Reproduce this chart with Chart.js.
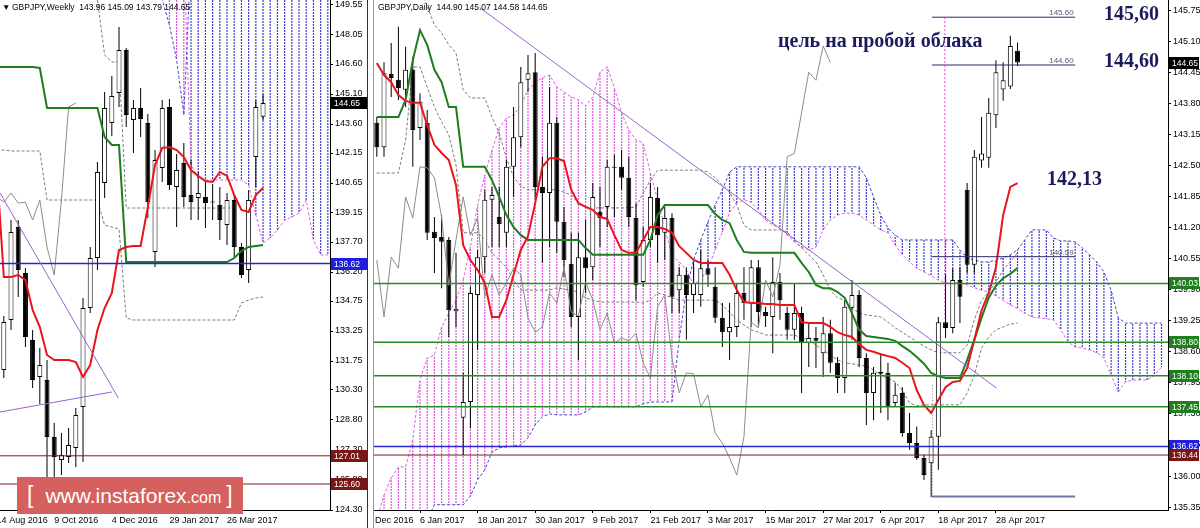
<!DOCTYPE html>
<html>
<head>
<meta charset="utf-8">
<title>GBPJPY Weekly / Daily</title>
<script src="https://cdn.jsdelivr.net/npm/chart.js@4.4.1/dist/chart.umd.min.js"></script>
<style>
  body { margin: 0; background: #fff; }
  #wrap { position: relative; width: 1200px; height: 528px; overflow: hidden; background: #fff; }
  #wk { position: absolute; left: 0; top: 0; }
  #dy { position: absolute; left: 374px; top: 0; }
  .sep { position: absolute; top: 0; width: 1px; height: 528px; }
  #logo { position: absolute; left: 17px; top: 477px; width: 226px; height: 37px; background: #d6605d;
          color: #fff; font-family: "Liberation Sans", sans-serif; line-height: 36px; white-space: nowrap; }
  #logo .br { font-size: 23px; }
  #logo .w { font-size: 21px; }
  #logo .c { font-size: 16px; }
</style>
</head>
<body>
<div id="wrap">
  <canvas id="wk" width="368" height="528"></canvas>
  <div class="sep" style="left:367px;background:#333"></div>
  <div class="sep" style="left:373px;background:#7f9db9"></div>
  <canvas id="dy" width="826" height="528"></canvas>
  <div id="logo"><span class="br" style="margin-left:10px">[</span><span class="w" style="margin-left:12px">www.instaforex</span><span class="c">.com</span><span class="br" style="margin-left:5px">]</span></div>
</div>
<script>
// ---- weekly panel, x = week number from 14 Aug 2016 ----
var wkOpen  = [null,131.3,133.8,138.45,136.15,132.8,130.95,130.8,127.95,126.8,126.95,127.4,129.45,134.4,136.9,140.65,143.65,145.15,147.3,143.8,144.4,143.65,137.2,141.4,144.45,140.45,141.65,140.05,139.9,139.95,139.7,139.55,138.55,139.8,137.45,136.3,141.95,143.96];
var wkHigh  = [null,134.0,138.8,138.8,136.4,133.3,132.4,131.8,128.65,128.15,128.4,129.4,134.9,137.45,141.7,145.2,146.0,148.45,147.4,144.8,145.4,144.1,142.3,144.8,144.85,142.1,142.65,141.8,141.2,140.8,140.6,140.45,140.15,140.1,137.65,140.3,144.8,145.09];
var wkLow   = [null,130.9,133.3,134.95,132.45,130.4,129.6,124.6,125.2,126.05,126.65,126.45,126.7,134.15,136.3,139.9,143.0,144.45,143.45,142.15,142.95,138.9,136.45,140.7,140.3,138.45,139.45,138.8,138.8,138.4,138.8,137.8,137.55,136.95,135.9,135.65,140.45,143.79];
var wkClose = [null,133.7,138.2,136.3,132.95,130.8,131.55,127.95,126.95,127.05,127.55,129.05,134.4,136.9,141.2,144.4,145.0,147.3,144.05,144.4,143.85,139.7,141.8,144.4,140.55,141.3,139.95,139.7,140.15,139.65,139.68,138.8,139.8,137.45,136.05,139.8,144.45,144.65];
var wkTenkan = [141.5,135.95,135.95,136.05,135.8,134.3,133.45,132.05,131.8,131.8,131.8,131.7,130.95,131.55,133.3,134.4,135.15,137.3,137.45,137.5,137.5,139.45,141.55,142.4,142.45,142.3,141.95,141.3,141.0,140.75,140.7,141.2,141.0,140.05,139.3,139.2,140.05,140.4];
var wkKijun = [146.45,146.45,146.45,146.45,146.45,146.45,146.4,144.4,144.4,144.4,144.4,144.4,144.4,144.4,144.4,142.95,142.55,142.55,136.7,136.7,136.7,136.7,136.7,136.7,136.7,136.7,136.7,136.7,136.7,136.7,136.7,136.7,136.7,136.9,137.25,137.45,137.5,137.55];
var wkGrayUp = [null,null,null,null,null,null,null,null,null,null,null,null,null,151.0,149.8,147.05,146.7,146.7,139.4,139.4,139.4,139.4,139.4,139.4,139.4,139.4,139.4,139.4,139.4,139.4,139.4,139.4,139.4,139.4,null,null,null,null];
var wkGrayLo = [142.3,142.3,142.25,142.25,142.25,142.25,142.25,139.8,139.8,139.8,139.8,139.8,139.8,139.8,139.8,138.55,138.45,138.35,133.9,133.8,133.8,133.8,133.8,133.8,133.8,133.8,133.8,133.8,133.8,133.8,133.8,133.8,133.8,133.8,134.65,134.8,134.9,134.95];
var wkSpanA = [null,null,null,null,null,null,null,null,null,null,null,null,null,null,null,null,null,null,null,null,null,null,150.3,149.8,148.55,146.8,144.05,152,152,152,152,152,152,152,152,152,152,152,152,152,152,152,152,152,152,152,152];
var wkSpanB = [null,null,null,null,null,null,null,null,null,null,null,null,null,null,null,null,null,null,null,null,null,null,152,152,152,152,152,141.55,140.9,140.8,140.8,140.8,140.8,140.8,140.8,140.55,139.05,137.65,137.9,138.3,138.8,138.95,139.15,139.8,137.8,137.05,137.05];
var wkTickPos = [0, 8, 16, 24, 32];
var wkTickLabels = ['14 Aug 2016', '9 Oct 2016', '4 Dec 2016', '29 Jan 2017', '26 Mar 2017'];
var wkPriceTicks = [149.55,148.05,146.60,145.10,143.60,142.15,140.65,139.15,137.70,136.20,134.75,133.25,131.75,130.30,128.80,127.30,125.80,124.30];
var wkSupport = 136.62;
var wkLowLevels = [127.01, 125.60];

// ---- daily panel, x = trading day from 29 Dec 2016 ----
var dOpen = [143.39,142.88,144.41,144.29,144.08,144.50,143.28,143.39,141.11,141.00,
  140.94,139.45,137.22,137.55,139.79,140.58,141.78,141.42,141.09,142.47,
  143.09,144.29,144.45,142.05,141.92,143.39,141.32,140.44,139.33,140.58,
  140.37,141.53,141.63,142.47,142.47,142.24,141.40,140.06,140.94,141.82,
  141.09,141.40,139.89,140.21,139.79,139.79,140.35,139.96,139.31,139.01,
  139.12,139.83,139.62,140.37,139.43,139.33,140.06,139.41,139.06,139.41,
  138.78,138.89,138.57,138.99,138.37,138.05,139.52,139.79,138.47,137.74,
  138.18,138.16,137.53,137.74,136.90,136.69,136.38,136.27,136.82,139.22,
  139.10,140.10,141.99,140.42,142.60,142.66,143.55,144.09,144.15,144.90];
var dHigh = [143.51,144.66,145.06,145.40,144.98,144.77,144.01,143.66,141.42,141.46,
  141.00,140.67,138.16,139.96,140.73,141.99,142.05,142.05,142.61,143.72,
  144.56,144.81,144.85,142.68,144.14,143.51,141.63,141.09,141.09,141.36,
  142.13,142.05,142.61,142.72,142.82,142.68,141.71,141.21,142.13,142.05,
  141.63,141.50,140.37,140.37,140.46,140.73,140.52,140.37,139.62,139.62,
  140.04,140.37,140.52,140.52,139.54,140.58,140.25,139.54,140.04,139.54,
  139.20,139.12,139.33,139.27,138.49,139.68,140.10,139.89,138.57,138.28,
  138.57,138.37,137.95,137.86,137.32,137.03,136.45,136.96,139.33,140.21,
  140.35,140.37,142.13,142.82,143.51,143.91,144.70,144.66,145.21,145.07];
var dLow = [142.68,142.68,143.93,143.87,143.72,142.47,143.03,140.94,140.25,139.93,
  138.91,139.12,136.44,137.00,138.64,140.25,140.79,140.79,140.79,141.84,
  142.88,144.04,141.78,140.46,140.79,140.67,140.17,139.12,138.43,139.83,
  140.10,140.79,141.21,141.42,141.99,141.21,139.68,139.96,140.79,140.46,
  140.52,139.41,139.41,138.85,139.41,139.54,139.96,139.20,138.70,138.43,
  138.91,139.27,139.12,139.12,139.12,138.57,139.27,138.85,138.85,137.74,
  138.28,138.26,138.07,138.16,137.74,137.74,138.85,138.28,137.07,137.17,
  137.32,137.17,137.45,136.82,136.55,136.34,135.92,135.56,136.13,138.89,
  138.99,139.20,140.25,140.25,142.45,142.45,143.28,143.85,144.10,144.58];
var dClose = [142.88,144.43,144.33,144.12,144.50,143.24,143.83,141.09,140.98,140.90,
  139.47,139.50,137.55,139.83,140.58,141.78,141.88,141.27,142.47,143.09,
  144.24,144.43,142.05,141.92,143.39,141.32,140.52,139.33,140.58,140.35,
  141.84,141.40,142.47,142.45,142.24,141.42,139.99,140.94,141.84,141.04,
  141.40,139.75,140.21,139.79,140.04,140.35,140.21,139.31,139.01,139.12,
  139.83,139.62,140.37,139.43,139.35,140.06,139.68,139.06,139.41,138.78,
  138.89,138.83,138.99,138.37,138.05,139.54,139.79,138.47,137.74,138.16,
  138.14,137.45,137.70,136.90,136.69,136.38,136.02,136.82,139.22,139.10,
  140.10,139.75,140.42,142.68,142.75,143.60,144.45,144.28,145.00,144.65];
var dTenkan = [144.64,144.39,144.24,143.97,143.85,143.81,143.81,143.34,142.93,142.76,
  142.61,142.09,140.83,140.52,140.31,140.04,139.33,139.33,139.68,140.21,
  140.73,141.02,141.71,142.47,142.65,142.65,142.59,141.99,141.71,141.63,
  141.57,141.42,141.38,141.04,140.73,140.67,140.67,140.94,141.21,141.21,
  141.17,141.09,140.81,140.67,140.52,140.46,140.46,140.46,140.46,140.21,
  139.89,139.64,139.62,139.62,139.60,139.60,139.58,139.58,139.58,139.22,
  139.20,139.20,139.20,139.12,139.01,138.95,138.91,138.76,138.64,138.60,
  138.55,138.51,138.47,138.37,138.26,137.80,137.49,137.32,137.59,137.86,
  137.97,137.99,138.26,138.85,139.47,139.83,140.37,141.46,142.05,142.13];
var dKijun = [143.51,143.51,143.51,143.51,143.87,144.70,145.33,145.02,144.50,144.24,
  143.72,143.72,142.47,142.47,142.47,142.47,142.19,141.84,141.46,141.21,
  141.04,140.94,140.94,140.94,140.94,140.94,140.94,140.94,140.94,140.77,
  140.63,140.63,140.63,140.63,140.63,140.63,140.63,140.63,140.94,141.46,
  141.67,141.67,141.67,141.67,141.67,141.67,141.67,141.48,141.36,141.29,
  140.94,140.69,140.67,140.67,140.67,140.67,140.67,140.67,140.67,140.46,
  140.27,140.00,139.93,139.93,139.85,139.73,139.41,139.06,138.93,138.91,
  138.89,138.87,138.83,138.72,138.62,138.49,138.35,138.16,138.09,138.05,
  138.05,138.05,138.43,138.85,139.31,139.73,139.98,140.14,140.23,140.35];
var dSpanA = [135.08,135.08,135.08,135.08,135.08,135.08,135.08,135.08,135.40,135.40,
  135.40,135.40,135.40,135.58,135.92,136.13,136.50,136.59,136.61,136.63,
  136.65,136.80,137.07,137.24,137.30,137.28,137.28,137.28,137.28,137.34,
  137.45,137.45,137.45,137.45,137.45,137.45,137.45,137.51,137.55,137.55,
  137.55,137.55,138.85,139.89,140.52,140.94,141.32,141.67,141.99,142.36,
  142.47,142.47,142.47,142.47,142.47,142.47,142.47,142.47,142.47,142.47,
  142.47,142.47,142.47,142.47,142.47,142.47,142.47,142.47,142.24,141.84,
  141.46,141.19,141.04,140.94,140.94,140.94,140.94,140.94,140.94,140.94,
  140.94,140.73,140.56,140.52,140.48,140.48,140.52,140.56,140.63,140.73,
  140.94,141.15,141.15,141.15,140.98,140.92,140.92,140.90,140.77,140.63,
  140.48,140.27,139.89,139.31,139.20,139.20,139.20,139.20,139.20,139.20];
var dSpanB = [135.08,135.60,135.96,136.19,136.19,136.76,138.01,138.47,138.53,139.12,
  139.41,139.68,140.10,140.79,141.67,142.30,142.82,143.28,143.49,143.55,
  143.76,144.08,144.24,144.33,144.39,144.14,144.04,143.93,143.87,143.74,
  143.93,144.45,144.56,144.12,143.60,143.24,143.03,142.97,142.34,141.78,
  141.19,140.63,140.48,140.31,140.00,140.10,140.35,140.73,141.11,141.52,
  141.71,141.78,141.73,141.57,141.36,141.25,141.19,141.04,140.90,140.79,
  140.73,140.79,141.15,141.36,141.46,141.50,141.50,141.46,141.36,141.25,
  141.15,141.09,140.83,140.63,140.48,140.35,140.27,140.19,140.10,140.04,
  140.04,140.04,140.00,139.94,139.89,139.85,139.77,139.68,139.58,139.50,
  139.41,139.33,139.31,139.29,139.27,139.06,138.81,138.70,138.68,138.64,
  138.58,138.47,138.11,137.76,137.97,138.01,138.01,138.01,138.11,138.28];
var dGrayUp = [null,null,null,null,null,null,146.2,145.83,145.44,145.27,
  145.02,144.85,144.08,143.91,143.91,143.91,143.51,143.18,142.65,142.26,
  142.07,141.99,141.99,141.99,141.99,141.99,141.94,141.88,141.71,141.63,
  141.61,141.61,141.61,141.61,141.61,141.61,141.63,141.92,142.19,142.40,
  142.40,142.40,142.40,142.40,142.40,142.40,142.36,142.24,142.09,141.94,
  141.67,141.25,141.15,141.15,141.15,141.15,141.15,141.11,140.94,140.77,
  140.63,140.48,140.21,139.89,139.73,139.68,139.52,139.41,139.37,139.35,
  139.33,139.22,139.10,139.01,138.91,138.81,138.72,138.64,138.58,138.58,
  138.58,138.58,138.74,139.27,139.68,139.85,140.06,140.31,140.48,140.67];
var dGrayLo = [142.34,142.34,142.34,142.34,143.03,144.56,144.56,144.14,143.72,143.41,
  143.14,142.51,141.09,141.09,141.09,140.94,140.67,140.52,140.37,140.10,
  139.89,139.89,139.89,139.89,139.89,139.94,139.91,139.89,139.85,139.73,
  139.68,139.64,139.64,139.64,139.64,139.64,139.64,139.62,139.68,139.83,
  139.79,139.73,139.68,139.68,139.68,139.68,139.68,139.68,139.58,139.43,
  139.27,139.16,139.06,139.01,138.95,138.95,138.95,138.95,138.95,138.89,
  138.85,138.74,138.64,138.53,138.43,138.37,138.35,138.32,138.30,138.22,
  138.11,138.05,137.97,137.80,137.53,137.47,137.49,137.49,137.49,137.49,
  137.49,137.49,137.74,138.11,138.68,138.91,139.06,139.12,139.18,139.20];
var dTickPos = [-2, 6, 14, 22, 30, 38, 46, 54, 62, 70, 78, 86];
var dTickLabels = ['27 Dec 2016','6 Jan 2017','18 Jan 2017','30 Jan 2017','9 Feb 2017','21 Feb 2017',
  '3 Mar 2017','15 Mar 2017','27 Mar 2017','6 Apr 2017','18 Apr 2017','28 Apr 2017'];
var dPriceTicks = [145.75,145.10,144.45,143.80,143.15,142.50,141.85,141.20,140.55,139.90,139.25,138.60,137.95,137.30,136.65,136.00,135.35];
var dGreenLevels = [140.03, 138.80, 138.10, 137.45];
var dSupport = 136.62;
var dRedLevel = 136.44;
var dTargets = [145.60, 144.60, 140.59];
var dLowMark = 135.57;

Chart.defaults.font.family = '"Liberation Sans", "DejaVu Sans", sans-serif';

function pts(arr, shift) {
  return arr.map(function (v, i) { return { x: i + shift, y: v }; });
}

function line(data, color, width, dash, order) {
  return { type: 'line', data: data, borderColor: color, borderWidth: width, borderDash: dash || [],
           pointRadius: 0, tension: 0, fill: false, order: order, clip: 0 };
}

function hline(v, x0, x1, color, width, dash, order) {
  return line([{ x: x0, y: v }, { x: x1, y: v }], color, width, dash, order);
}

function candles(o, h, l, c) {
  var wick = [], up = [], dn = [];
  o.forEach(function (v, i) {
    if (v == null) return;
    wick.push({ x: i, y: [l[i], h[i]] });
    if (c[i] >= v) up.push({ x: i, y: [v, c[i]] });
    else dn.push({ x: i, y: [c[i], v] });
  });
  var base = { type: 'bar', grouped: false, borderSkipped: false, inflateAmount: 0, clip: 0, minBarLength: 1 };
  return [
    Object.assign({}, base, { data: up, barThickness: 5, backgroundColor: '#fff', borderColor: '#000', borderWidth: 1, order: 3 }),
    Object.assign({}, base, { data: dn, barThickness: 5, backgroundColor: '#000', borderColor: '#000', borderWidth: 1, order: 3 }),
    Object.assign({}, base, { data: wick, barThickness: 1, backgroundColor: '#000', borderWidth: 0, order: 4 })
  ];
}

// dotted vertical hatch, like the kumo histogram
function dots(ctx, color) {
  var c = document.createElement('canvas');
  c.width = 1; c.height = 3;
  var g = c.getContext('2d');
  g.fillStyle = color;
  g.fillRect(0, 0, 1, 2);
  return ctx.createPattern(c, 'repeat');
}

function cloud(a, b, ctx) {
  var up = [], dn = [];
  a.forEach(function (v, i) {
    if (v == null || b[i] == null) return;
    var p = { x: i, y: [Math.min(v, b[i]), Math.max(v, b[i])] };
    if (v >= b[i]) up.push(p); else dn.push(p);
  });
  var base = { type: 'bar', grouped: false, borderWidth: 0, inflateAmount: 0, clip: 0, barThickness: 1.2, order: 7 };
  return [
    Object.assign({}, base, { data: up, backgroundColor: dots(ctx, '#3c3cd2') }),
    Object.assign({}, base, { data: dn, backgroundColor: dots(ctx, '#e052e0') }),
    line(pts(a, 0), '#4646cc', 1, [3, 2], 6),
    line(pts(b, 0), '#e060e0', 1, [3, 2], 6)
  ];
}

function xAxis(min, max, pos, labels) {
  return {
    type: 'linear', min: min, max: max, offset: false,
    grid: { drawOnChartArea: false, drawTicks: true, tickLength: 3, color: '#000', offset: false },
    border: { display: true, color: '#000' },
    ticks: { autoSkip: false, maxRotation: 0, minRotation: 0, align: 'start', padding: 2, color: '#000',
             font: { size: 9 }, callback: function (v, i) { return labels[i]; } },
    afterBuildTicks: function (s) { s.ticks = pos.map(function (v) { return { value: v }; }); },
    afterFit: function (s) { s.height = 18; s.paddingLeft = 0; s.paddingRight = 0; }
  };
}

function yAxis(min, max, vals, width) {
  return {
    type: 'linear', position: 'right', min: min, max: max,
    grid: { drawOnChartArea: false, drawTicks: true, tickLength: 3, color: '#000' },
    border: { display: true, color: '#000' },
    ticks: { autoSkip: false, padding: 2, color: '#000', font: { size: 9 },
             callback: function (v) { return Number(v).toFixed(2); } },
    afterBuildTicks: function (s) { s.ticks = vals.map(function (v) { return { value: v }; }); },
    afterFit: function (s) { s.width = width; s.paddingTop = 0; s.paddingBottom = 0; }
  };
}

function priceBox(chart, v, bg) {
  var ctx = chart.ctx;
  var y = Math.round(chart.scales.y.getPixelForValue(v));
  var x = chart.chartArea.right + 1;
  ctx.fillStyle = bg;
  ctx.fillRect(x, y - 6, chart.width - x - 1, 12);
  ctx.fillStyle = '#fff';
  ctx.font = '8.5px "Liberation Sans", sans-serif';
  ctx.textAlign = 'left';
  ctx.textBaseline = 'middle';
  ctx.fillText(v.toFixed(2), x + 3, y + 0.5);
}

function header(ctx, x, text) {
  ctx.fillStyle = '#000';
  ctx.font = '8.5px "Liberation Sans", "DejaVu Sans", sans-serif';
  ctx.textAlign = 'left';
  ctx.textBaseline = 'middle';
  ctx.fillText(text, x, 8);
}

function ohlc(o, h, l, c) {
  var n = o.length - 1;
  return [o[n], h[n], l[n], c[n]].map(function (v) { return v.toFixed(2); }).join(' ');
}

var baseOptions = {
  responsive: false, animation: false, devicePixelRatio: 1, events: [],
  layout: { padding: 0 },
  plugins: { legend: { display: false }, tooltip: { enabled: false } }
};

// ---------- weekly chart ----------
var wkCanvas = document.getElementById('wk');
var wkCtx = wkCanvas.getContext('2d');
var wkMin = 0.47, wkMax = 46.3;
var wkLast = wkClose[wkClose.length - 1];

var wkSets = [
  line([{ x: 0.47, y: 140.15 }, { x: 16.9, y: 129.9 }], '#9a63c8', 1, [], 0),
  line([{ x: 0.47, y: 129.2 }, { x: 16.0, y: 130.2 }], '#9a63c8', 1, [], 0),
  hline(wkSupport, wkMin, wkMax, '#2828c8', 1.5, [], 0),
  line(pts(wkTenkan, 0), '#e8141e', 2, [], 1),
  line(pts(wkKijun, 0), '#1e7d1e', 2, [], 1),
  line(pts(wkClose.slice(26), 0), '#8c8c8c', 1, [], 2),
  line(pts(wkGrayUp, 0), '#7a7a7a', 1, [3, 2], 5),
  line(pts(wkGrayLo, 0), '#7a7a7a', 1, [3, 2], 5)
];
wkLowLevels.forEach(function (v) { wkSets.push(hline(v, wkMin, wkMax, '#7e1a1a', 1, [], 0)); });
wkSets = wkSets.concat(candles(wkOpen, wkHigh, wkLow, wkClose), cloud(wkSpanA, wkSpanB, wkCtx));

new Chart(wkCanvas, {
  type: 'line',
  data: { datasets: wkSets },
  options: Object.assign({}, baseOptions, {
    scales: { x: xAxis(wkMin, wkMax, wkTickPos, wkTickLabels), y: yAxis(124.30, 149.80, wkPriceTicks, 38) }
  }),
  plugins: [{
    id: 'wkText',
    afterDraw: function (chart) {
      var ctx = chart.ctx;
      ctx.save();
      header(ctx, 2, '\u25BC');
      header(ctx, 12, 'GBPJPY,Weekly  ' + ohlc(wkOpen, wkHigh, wkLow, wkClose));
      priceBox(chart, wkLast, '#000');
      priceBox(chart, wkSupport, '#2020d8');
      wkLowLevels.forEach(function (v) { priceBox(chart, v, '#7a1616'); });
      ctx.restore();
    }
  }]
});

// ---------- daily chart ----------
var dyCanvas = document.getElementById('dy');
var dyCtx = dyCanvas.getContext('2d');
var dMin = -0.39, dMax = 109.9;
var dLast = dClose[dClose.length - 1];

var dySets = [
  line([{ x: 14.3, y: 145.80 }, { x: 86.1, y: 137.84 }], '#9a63c8', 1, [], 0),
  hline(dSupport, dMin, dMax, '#2828c8', 1.5, [], 0),
  hline(dRedLevel, dMin, dMax, '#7e1a1a', 1, [], 0),
  hline(dLowMark, 77.1, 97.0, '#6f78a8', 2, [], 0),
  line([{ x: 78.9, y: 145.60 }, { x: 78.9, y: 139.3 }], '#e040e0', 1, [2, 2], 0),
  line([{ x: 77.2, y: 137.9 }, { x: 77.2, y: dLowMark }], '#888', 1, [1, 2], 0),
  line(pts(dTenkan, 0), '#e8141e', 2, [], 1),
  line(pts(dKijun, 0), '#1e7d1e', 2, [], 1),
  line(pts(dClose.slice(26), 0), '#8c8c8c', 1, [], 2),
  line(pts(dGrayUp, 0), '#7a7a7a', 1, [3, 2], 5),
  line(pts(dGrayLo, 0), '#7a7a7a', 1, [3, 2], 5)
];
dGreenLevels.forEach(function (v) { dySets.push(hline(v, dMin, dMax, '#2a8a2a', 1.5, [], 0)); });
dTargets.forEach(function (v) { dySets.push(hline(v, 77.1, 97.0, '#2b2b6e', 1, [], 0)); });
dySets = dySets.concat(candles(dOpen, dHigh, dLow, dClose), cloud(dSpanA, dSpanB, dyCtx));

new Chart(dyCanvas, {
  type: 'line',
  data: { datasets: dySets },
  options: Object.assign({}, baseOptions, {
    scales: { x: xAxis(dMin, dMax, dTickPos, dTickLabels), y: yAxis(135.29, 145.96, dPriceTicks, 32) }
  }),
  plugins: [{
    id: 'dyText',
    afterDraw: function (chart) {
      var ctx = chart.ctx, xs = chart.scales.x, ys = chart.scales.y;
      ctx.save();
      header(ctx, 4, 'GBPJPY,Daily  ' + ohlc(dOpen, dHigh, dLow, dClose));

      // small labels on the target lines
      ctx.fillStyle = '#5a5a78';
      ctx.font = '8px "Liberation Sans", sans-serif';
      ctx.textAlign = 'right';
      ctx.textBaseline = 'alphabetic';
      dTargets.forEach(function (v) {
        ctx.fillText(v.toFixed(2), xs.getPixelForValue(96.8), ys.getPixelForValue(v) - 2);
      });

      // comments
      ctx.fillStyle = '#1c1c5c';
      ctx.font = 'bold 20px "Liberation Serif", serif';
      ctx.textAlign = 'left';
      ctx.fillText('цель на пробой облака', 404, 47);
      ctx.fillText('145,60', 730, 20);
      ctx.fillText('144,60', 730, 67);
      ctx.fillText(dTenkan[dTenkan.length - 1].toFixed(2).replace('.', ','), 673, 185);

      priceBox(chart, dLast, '#000');
      dGreenLevels.forEach(function (v) { priceBox(chart, v, '#1f7f1f'); });
      priceBox(chart, dSupport, '#2020d8');
      priceBox(chart, dRedLevel, '#7a1616');
      ctx.restore();
    }
  }]
});
</script>
</body>
</html>
